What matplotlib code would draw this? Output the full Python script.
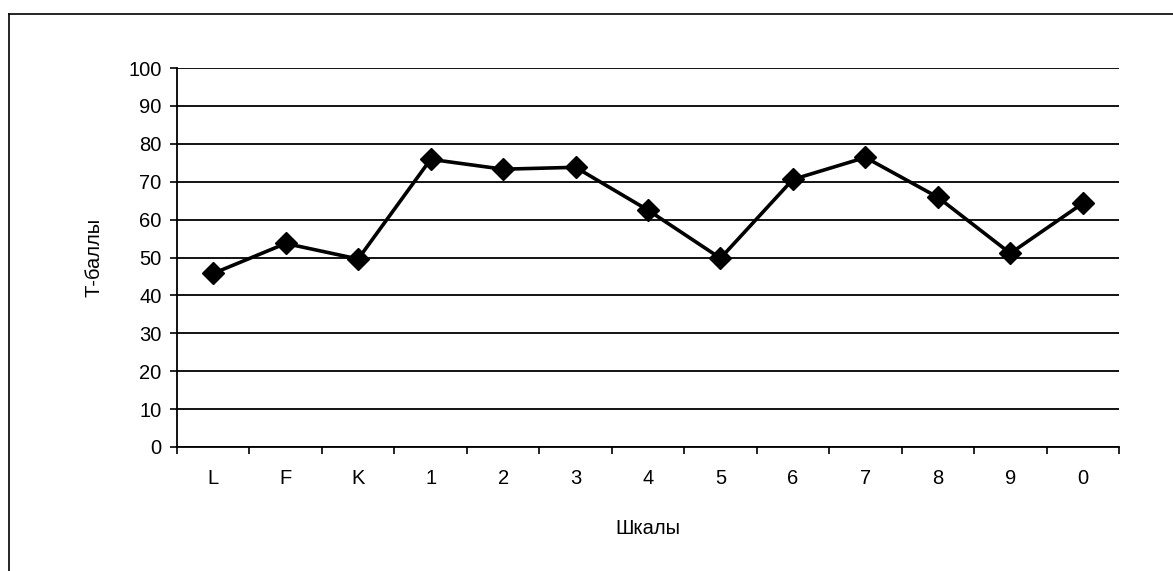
import matplotlib.pyplot as plt
import numpy as np
from matplotlib.lines import Line2D

plt.rcParams['font.family'] = ['Liberation Sans', 'DejaVu Sans']

# данные
scales = ['L', 'F', 'K', '1', '2', '3', '4', '5', '6', '7', '8', '9', '0']
t_scores = [45.8, 53.7, 49.6, 75.9, 73.3, 73.8, 62.5, 49.8, 70.6, 76.4, 65.9, 51.1, 64.3]
yticks = [0, 10, 20, 30, 40, 50, 60, 70, 80, 90, 100]

fig = plt.figure(figsize=(11.73, 5.71), dpi=100)
ax = fig.add_axes([177/1173, 124/571, 942/1173, 379/571])

xx = np.arange(len(scales)) + 0.5
ax.plot(xx, t_scores, color='black', lw=2.6, marker='D', markersize=11, zorder=3)

ax.set_xlim(0, len(scales))
ax.set_ylim(0, 100)
ax.set_yticks(yticks)
ax.set_yticklabels([str(v) for v in yticks])
ax.set_xticks(np.arange(len(scales) + 1))
ax.set_xticklabels([])
ax.set_xticks(xx, minor=True)
ax.set_xticklabels(scales, minor=True)
ax.tick_params(axis='x', which='minor', length=0, pad=16, labelsize=14.5)
ax.tick_params(axis='x', which='major', length=5, width=1.2, direction='out')
ax.tick_params(axis='y', length=5, width=1.2, direction='out', labelsize=14.5, pad=6)

ax.grid(axis='y', color='black', lw=1.3)
ax.set_axisbelow(True)
for s in ['top', 'right']:
    ax.spines[s].set_visible(False)
for s in ['left', 'bottom']:
    ax.spines[s].set_linewidth(1.3)

ax.set_xlabel('Шкалы', fontsize=14.5, labelpad=22)
ax.set_ylabel('Т-баллы', fontsize=14.5, labelpad=18)

# рамка вокруг диаграммы
fig.add_artist(Line2D([9/1173, 9/1173], [0, 1 - 14/571], color='black', lw=1.2, transform=fig.transFigure))
fig.add_artist(Line2D([9/1173, 1], [1 - 14/571, 1 - 14/571], color='black', lw=1.2, transform=fig.transFigure))

fig.savefig('out.png', dpi=100)
